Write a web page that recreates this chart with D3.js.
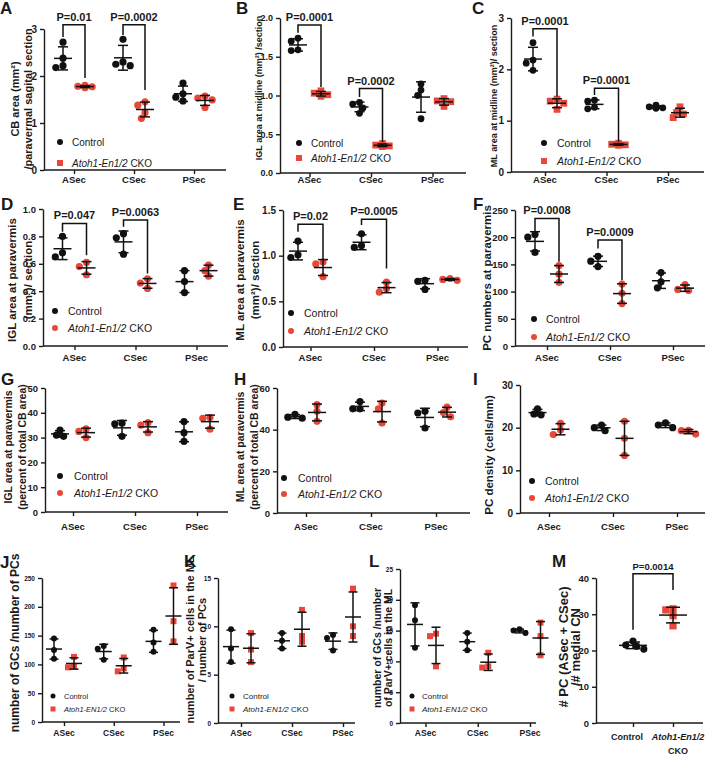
<!DOCTYPE html>
<html>
<head>
<meta charset="utf-8">
<script src="https://cdn.jsdelivr.net/npm/d3@7"></script>
<style>
  body { margin: 0; background: #fff; }
  text { font-family: "Liberation Sans", Arial, Helvetica, sans-serif; fill: #1a1a1a; }
</style>
</head>
<body>
<script>
// categorias e grupos
var secoes = ['ASec', 'CSec', 'PSec'];
var grupos = ['Control', 'Atoh1-En1/2 CKO'];

// A - CB area
var aControl = [[2.72, 2.22, 2.18, 2.38], [2.78, 2.30, 2.25, 2.22], [1.85, 1.62, 1.55, 1.47]];
var aCko     = [[1.80, 1.78, 1.77, 1.75], [1.45, 1.38, 1.22, 1.10], [1.57, 1.53, 1.49, 1.33]];
var aTicks   = [0, 1, 2, 3];
var aPvals   = ['P=0.01', 'P=0.0002'];

// B - IGL area at midline
var bControl = [[1.74, 1.70, 1.59, 1.58], [0.91, 0.89, 0.84, 0.77], [1.15, 1.07, 1.00, 0.70]];
var bCko     = [[1.06, 1.03, 1.01, 0.99], [0.38, 0.36, 0.35, 0.34], [0.96, 0.93, 0.92, 0.86]];
var bTicks   = [0, 0.5, 1, 1.5, 2];
var bPvals   = ['P=0.0001', 'P=0.0002'];

// C - ML area at midline
var cControl = [[2.52, 2.18, 2.12, 1.98], [1.40, 1.38, 1.26, 1.23], [1.30, 1.27, 1.25, 1.24]];
var cCko     = [[1.42, 1.38, 1.34, 1.22], [0.56, 0.54, 0.53, 0.52], [1.27, 1.16, 1.13, 1.06]];
var cTicks   = [0, 1, 2, 3];
var cPvals   = ['P=0.0001', 'P=0.0001'];

// D - IGL area at paravermis
var dControl = [[0.80, 0.68, 0.65], [0.82, 0.79, 0.67], [0.55, 0.47, 0.39]];
var dCko     = [[0.61, 0.58, 0.52], [0.49, 0.46, 0.42], [0.59, 0.55, 0.51]];
var dTicks   = [0, 0.2, 0.4, 0.6, 0.8, 1.0];
var dPvals   = ['P=0.047', 'P=0.0063'];

// E - ML area at paravermis
var eControl = [[1.16, 1.01, 0.98], [1.24, 1.11, 1.09], [0.73, 0.72, 0.63]];
var eCko     = [[0.93, 0.91, 0.77], [0.71, 0.64, 0.60], [0.75, 0.74, 0.73]];
var eTicks   = [0, 0.5, 1.0, 1.5];
var ePvals   = ['P=0.02', 'P=0.0005'];

// F - PC numbers
var fControl = [[205, 200, 172], [165, 156, 146], [135, 118, 107]];
var fCko     = [[148, 132, 117], [114, 97, 78], [113, 104, 102]];
var fTicks   = [0, 50, 100, 150, 200, 250];
var fPvals   = ['P=0.0008', 'P=0.0009'];

// G - IGL percent
var gControl = [[33, 31, 30.5], [35.8, 35.5, 30.5], [36.5, 32, 28.5]];
var gCko     = [[33.5, 32.5, 30], [36, 35, 32], [38.1, 37.8, 33.4]];
var gTicks   = [0, 10, 20, 30, 40, 50];

// H - ML percent
var hControl = [[47.3, 46, 45.5], [53.5, 50, 50], [48.8, 48, 40.8]];
var hCko     = [[52, 48.8, 44], [52.8, 50, 43.2], [50.8, 48.2, 46.2]];
var hTicks   = [0, 20, 40, 60];

// I - PC density
var iControl = [[24.4, 23.2, 23.0], [20.6, 20, 19.3], [21.1, 20.6, 20]];
var iCko     = [[21, 19.5, 18.4], [21.5, 17.5, 13.5], [19.4, 19.3, 18.5]];
var iTicks   = [0, 10, 20, 30];

// J - GCs / PCs
var jControl = [[145, 125, 110], [132, 127, 108], [160, 138, 122]];
var jCko     = [[113, 97, 95], [112, 93, 88], [237, 175, 140]];
var jTicks   = [0, 50, 100, 150, 200, 250];

// K - ParV+ / PCs
var kControl = [[9.7, 7.7, 6.3], [9.3, 8.5, 7.7], [9.1, 8.8, 7.5]];
var kCko     = [[9.3, 7.6, 6.3], [11.7, 9.0, 8.4], [13.9, 10, 9]];
var kTicks   = [0, 5, 10, 15];

// L - GCs / ParV+
var lControl = [[19.1, 16.7, 12.2], [14.6, 13.2, 11.8], [15.2, 15.0, 14.6]];
var lCko     = [[14.5, 14.1, 9.2], [11.4, 9.2, 9.0], [16.3, 14.1, 11]];
var lTicks   = [0, 5, 10, 15, 20, 25];

// M - PC / medial CN
var mControl = [22.6, 21.5, 21.2, 20.4];
var mCko     = [31.5, 31.2, 29.6, 26.8];
var mTicks   = [0, 10, 20, 30, 40];
var mPvals   = ['P=0.0014'];

var preto = '#111';
var vermelho = '#e8473a';

var svg = d3.select('body').append('svg')
            .attr('width', 708)
            .attr('height', 757);

function espalha(vals, y, r) {
  var colocados = [];
  return vals.map(function(v) {
    var py = y(v);
    var opcoes = [0, -r, r, -2*r, 2*r, -3*r, 3*r];
    for (var k = 0; k < opcoes.length; k++) {
      var livre = colocados.every(q => Math.hypot(q[0]-opcoes[k], q[1]-py) >= 1.7*r);
      if (livre) { colocados.push([opcoes[k], py]); return opcoes[k]; }
    }
    return 0;
  });
}

function marcador(g, forma, cx, cy, r, cor) {
  if (forma == 'square') {
    g.append('rect').attr('x', cx-r).attr('y', cy-r)
     .attr('width', 2*r).attr('height', 2*r).attr('fill', cor);
  } else {
    g.append('circle').attr('cx', cx).attr('cy', cy).attr('r', r).attr('fill', cor);
  }
}

function painel(p) {
  var g = svg.append('g');
  var cats = p.cats || secoes;
  var r = p.r || 3.6;
  var meanW = p.meanW || 9;
  var cap = p.cap || 5;
  var desvio = p.catShift || cats.map(() => 0);

  var y = d3.scaleLinear().domain([0, d3.max(p.ticks)]).range([p.y0, p.yTop]);
  var x = d3.scalePoint().domain(cats).range(p.centers);

  // eixos
  var eixoY = g.append('g')
               .attr('transform', 'translate(' + p.ax + ',0)')
               .call(d3.axisLeft(y).tickValues(p.ticks).tickSizeInner(4).tickSizeOuter(0)
                       .tickPadding(3).tickFormat(d3.format(p.fmt || 'd')));
  eixoY.selectAll('text').style('font-size', p.tickFont + 'px').style('font-weight', 'bold');

  var eixoX = g.append('g')
               .attr('transform', 'translate(0,' + p.y0 + ')')
               .call(d3.axisBottom(x).tickSizeInner(4).tickSizeOuter(0).tickFormat(''));
  eixoX.select('.domain').attr('d', 'M' + p.ax + ',0H' + p.xEnd);
  g.selectAll('.domain, .tick line').attr('stroke', '#1a1a1a').attr('stroke-width', 1.4);

  // rotulos das categorias
  var rot = g.selectAll('.cat')
             .data(cats)
             .enter()
               .append('text')
               .classed('cat', true)
               .attr('x', (d, i) => x(d) + desvio[i])
               .attr('y', p.catY)
               .attr('text-anchor', 'middle')
               .style('font-size', p.catFont + 'px')
               .style('font-weight', 'bold');
  rot.each(function(d, i) {
    var t = d3.select(this);
    if (d.indexOf('Atoh1') == 0) {
      t.append('tspan').style('font-style', 'italic').text('Atoh1-En1/2');
      t.append('tspan').attr('x', x(d) + desvio[i]).attr('dy', 14).text('CKO');
    } else {
      t.text(d);
    }
  });

  // titulo do eixo y
  g.selectAll('.ylab')
    .data(p.ylab.lines)
    .enter()
      .append('text')
      .classed('ylab', true)
      .attr('transform', (d, i) => 'translate(' + p.ylab.xs[i] + ',' + p.ylab.cy + ') rotate(-90)')
      .attr('text-anchor', 'middle')
      .attr('dominant-baseline', 'central')
      .style('font-size', p.ylab.size + 'px')
      .style('font-weight', 'bold')
      .text(d => d);

  // pontos e barras
  var series = [
    { vals: p.ctrl, cor: preto, forma: 'circle', off: -1 },
    { vals: p.cko, cor: vermelho, forma: p.ckoShape || 'circle', off: 1 }
  ];
  series.forEach(function(s) {
    s.vals.forEach(function(pts, i) {
      if (!pts) return;
      var cx = x(cats[i]) + s.off * p.dx;
      var desloc = espalha(pts, y, r);
      pts.forEach(function(v, k) {
        marcador(g, s.forma, cx + desloc[k], y(v), r, s.cor);
      });
      var media = d3.mean(pts), dp = d3.deviation(pts);
      var barra = g.append('g').attr('stroke', preto).attr('stroke-width', 1.5);
      barra.append('line').attr('x1', cx).attr('x2', cx).attr('y1', y(media - dp)).attr('y2', y(media + dp));
      [media - dp, media + dp].forEach(function(v) {
        barra.append('line').attr('x1', cx - cap).attr('x2', cx + cap).attr('y1', y(v)).attr('y2', y(v));
      });
      barra.append('line').attr('x1', cx - meanW).attr('x2', cx + meanW).attr('y1', y(media)).attr('y2', y(media));
    });
  });

  // colchetes de significancia
  (p.brackets || []).forEach(function(b, k) {
    var j = (b.j === undefined) ? b.i : b.j;
    var xL = x(cats[b.i]) - p.dx, xR = x(cats[j]) + p.dx;
    g.append('path')
     .attr('d', 'M' + xL + ',' + y(b.l) + 'V' + y(b.top) + 'H' + xR + 'V' + y(b.r))
     .attr('fill', 'none').attr('stroke', preto).attr('stroke-width', 1.5);
    g.append('text')
     .attr('x', (xL + xR) / 2).attr('y', y(b.top) - 4)
     .attr('text-anchor', 'middle')
     .style('font-size', (p.pFont || 11) + 'px').style('font-weight', 'bold')
     .text(p.pvals[k]);
  });

  // legenda
  if (p.legend) {
    var L = p.legend;
    marcador(g, 'circle', L.x, L.y1, L.r || 3, preto);
    marcador(g, L.shape, L.x, L.y2, L.r || 3, vermelho);
    g.append('text').attr('x', L.tx).attr('y', L.y1).attr('dominant-baseline', 'central')
     .style('font-size', L.size + 'px').text('Control');
    var t = g.append('text').attr('x', L.tx).attr('y', L.y2).attr('dominant-baseline', 'central')
             .style('font-size', L.size + 'px');
    t.append('tspan').style('font-style', 'italic').text(L.gene || 'Atoh1-En1/2');
    t.append('tspan').text(' CKO');
  }

  // letra do painel
  g.append('text').attr('x', p.lx).attr('y', p.ly)
   .style('font-size', '17px').style('font-weight', 'bold').text(p.letra);
}

var paineis = [
  { letra: 'A', lx: 0, ly: 14, ax: 44, xEnd: 226, y0: 170, yTop: 29, ticks: aTicks, tickFont: 10,
    centers: [74, 194], dx: 11, ctrl: aControl, cko: aCko, ckoShape: 'circle', catY: 183, catFont: 9.5,
    ylab: { lines: ['CB area (mm\u00b2)', '/paravermal sagital section'], xs: [15, 28], cy: 99, size: 11 },
    legend: { x: 60, y1: 142, y2: 163, tx: 72, size: 10, shape: 'square' },
    pvals: aPvals, brackets: [{ i: 0, top: 3.09, l: 2.83, r: 1.96 }, { i: 1, top: 3.09, l: 2.87, r: 1.70 }] },
  { letra: 'B', lx: 236, ly: 14, ax: 280, xEnd: 466, y0: 173, yTop: 18, ticks: bTicks, fmt: '.1f', tickFont: 9,
    centers: [309.5, 432.5], dx: 11.5, ctrl: bControl, cko: bCko, ckoShape: 'square', r: 3.4, catY: 183, catFont: 9.5,
    ylab: { lines: ['IGL area at midline (mm\u00b2) /section'], xs: [259], cy: 88, size: 9 },
    legend: { x: 299, y1: 143, y2: 158, tx: 311, size: 10, shape: 'square' },
    pvals: bPvals, brackets: [{ i: 0, top: 1.91, l: 1.81, r: 1.11 }, { i: 1, top: 1.09, l: 0.98, r: 0.40 }] },
  { letra: 'C', lx: 472, ly: 14, ax: 511, xEnd: 704, y0: 172, yTop: 18, ticks: cTicks, tickFont: 10,
    centers: [545, 668], dx: 12, ctrl: cControl, cko: cCko, ckoShape: 'square', r: 3.4, catY: 183, catFont: 9.5,
    ylab: { lines: ['ML area at midline (mm\u00b2)/ section'], xs: [494], cy: 96, size: 9 },
    legend: { x: 544, y1: 143, y2: 161, tx: 557, size: 10.5, shape: 'square' },
    pvals: cPvals, brackets: [{ i: 0, top: 2.79, l: 2.64, r: 1.47 }, { i: 1, top: 1.63, l: 1.50, r: 0.59 }] },
  { letra: 'D', lx: 1, ly: 210, ax: 43, xEnd: 228, y0: 346, yTop: 209, ticks: dTicks, fmt: '.1f', tickFont: 9.5,
    centers: [74.5, 196.5], dx: 12, ctrl: dControl, cko: dCko, catY: 361, catFont: 9.5,
    ylab: { lines: ['IGL area at paravermis', '(mm\u00b2)/ section'], xs: [12, 28], cy: 280, size: 11.5 },
    legend: { x: 55, y1: 311, y2: 328, tx: 68, size: 10.5, shape: 'circle' },
    pvals: dPvals, brackets: [{ i: 0, top: 0.895, l: 0.834, r: 0.663 }, { i: 1, top: 0.92, l: 0.87, r: 0.53 }] },
  { letra: 'E', lx: 233, ly: 210, ax: 283, xEnd: 468, y0: 347, yTop: 210, ticks: eTicks, fmt: '.1f', tickFont: 10,
    centers: [310.5, 437.5], dx: 12.5, ctrl: eControl, cko: eCko, catY: 361, catFont: 9.5,
    ylab: { lines: ['ML area at paravermis', '(mm\u00b2)/ section'], xs: [240, 255], cy: 280, size: 11.5 },
    legend: { x: 291, y1: 313, y2: 331, tx: 304, size: 10.5, shape: 'circle' },
    pvals: ePvals, brackets: [{ i: 0, top: 1.343, l: 1.262, r: 0.951 }, { i: 1, top: 1.40, l: 1.336, r: 0.86 }] },
  { letra: 'F', lx: 473, ly: 210, ax: 515, xEnd: 705, y0: 346, yTop: 210, ticks: fTicks, tickFont: 9.5,
    centers: [547, 673], dx: 12, ctrl: fControl, cko: fCko, catY: 361, catFont: 9.5,
    ylab: { lines: ['PC numbers at paravermis'], xs: [487], cy: 278, size: 11.5 },
    legend: { x: 534, y1: 319, y2: 337, tx: 546, size: 10.5, shape: 'circle' },
    pvals: fPvals, brackets: [{ i: 0, top: 234.6, l: 210, r: 154.8 }, { i: 1, top: 194.7, l: 179.4, r: 121 }] },
  { letra: 'G', lx: 1, ly: 385, ax: 45, xEnd: 228, y0: 512, yTop: 388, ticks: gTicks, tickFont: 9.5,
    centers: [73, 197], dx: 13, ctrl: gControl, cko: gCko, catY: 530, catFont: 9.5,
    ylab: { lines: ['IGL area at paravermis', '(percent of total CB area)'], xs: [8, 22], cy: 447, size: 10.5 },
    legend: { x: 60, y1: 476, y2: 493, tx: 74, size: 10.5, shape: 'circle' } },
  { letra: 'H', lx: 234, ly: 385, ax: 277, xEnd: 470, y0: 513, yTop: 388, ticks: hTicks, tickFont: 9.5,
    centers: [306, 436], dx: 11, ctrl: hControl, cko: hCko, catY: 530, catFont: 9.5,
    ylab: { lines: ['ML area at paravermis', '(percent of total CB area)'], xs: [240, 254], cy: 447, size: 10.5 },
    legend: { x: 284, y1: 478, y2: 494, tx: 298, size: 10.5, shape: 'circle' } },
  { letra: 'I', lx: 473, ly: 385, ax: 520, xEnd: 705, y0: 513, yTop: 385, ticks: iTicks, tickFont: 10,
    centers: [549, 677], dx: 11.5, ctrl: iControl, cko: iCko, catY: 530, catFont: 9.5,
    ylab: { lines: ['PC density (cells/mm)'], xs: [489], cy: 455, size: 11.5 },
    legend: { x: 532, y1: 481, y2: 498, tx: 545, size: 10.5, shape: 'circle' } },
  { letra: 'J', lx: 0, ly: 568, ax: 42, xEnd: 180, y0: 722, yTop: 578, ticks: jTicks, tickFont: 6.5,
    centers: [64, 163.5], dx: 10, ctrl: jControl, cko: jCko, ckoShape: 'square', r: 3, meanW: 8, cap: 4.5,
    catY: 736, catFont: 8.5,
    ylab: { lines: ['number of GCs /number of PCs'], xs: [15], cy: 643, size: 12 },
    legend: { x: 53, y1: 696, y2: 709, tx: 64, size: 7.5, shape: 'square', r: 2.5, gene: 'Atoh1-EN1/2' } },
  { letra: 'K', lx: 184, ly: 567, ax: 218, xEnd: 355, y0: 723, yTop: 578, ticks: kTicks, tickFont: 6.5,
    centers: [241, 343], dx: 10, ctrl: kControl, cko: kCko, ckoShape: 'square', r: 3, meanW: 8, cap: 4.5,
    catY: 736, catFont: 8.5,
    ylab: { lines: ['number of ParV+ cells in the ML', '/ number of PCs'], xs: [190, 202], cy: 640, size: 11 },
    legend: { x: 232, y1: 696, y2: 709, tx: 243, size: 8, shape: 'square', r: 2.5, gene: 'Atoh1-EN1/2' } },
  { letra: 'L', lx: 369, ly: 567, ax: 400, xEnd: 536, y0: 723, yTop: 569, ticks: lTicks, tickFont: 6.5,
    centers: [425.5, 530], dx: 10.5, ctrl: lControl, cko: lCko, ckoShape: 'square', r: 3, meanW: 8, cap: 4.5,
    catY: 736, catFont: 8.5,
    ylab: { lines: ['number of GCs /number', 'of ParV+ cells in the ML'], xs: [377, 388], cy: 648, size: 10.5 },
    legend: { x: 412, y1: 696, y2: 709, tx: 422, size: 8, shape: 'square', r: 2.5, gene: 'Atoh1-EN1/2' } },
  { letra: 'M', lx: 552, ly: 567, ax: 596, xEnd: 703, y0: 723, yTop: 578, ticks: mTicks, tickFont: 9.5,
    cats: grupos, catShift: [-6, 5], centers: [633, 673], dx: 0, ctrl: [mControl, null], cko: [null, mCko],
    ckoShape: 'square', r: 3.6, meanW: 14, cap: 7, catY: 740, catFont: 9,
    ylab: { lines: ['# PC (ASec + CSec)', '/# medial CN'], xs: [563, 575], cy: 647, size: 13 },
    pvals: mPvals, pFont: 9.5, brackets: [{ i: 0, j: 1, top: 41.2, l: 25.7, r: 36.7 }] }
];

paineis.forEach(painel);
</script>
</body>
</html>
